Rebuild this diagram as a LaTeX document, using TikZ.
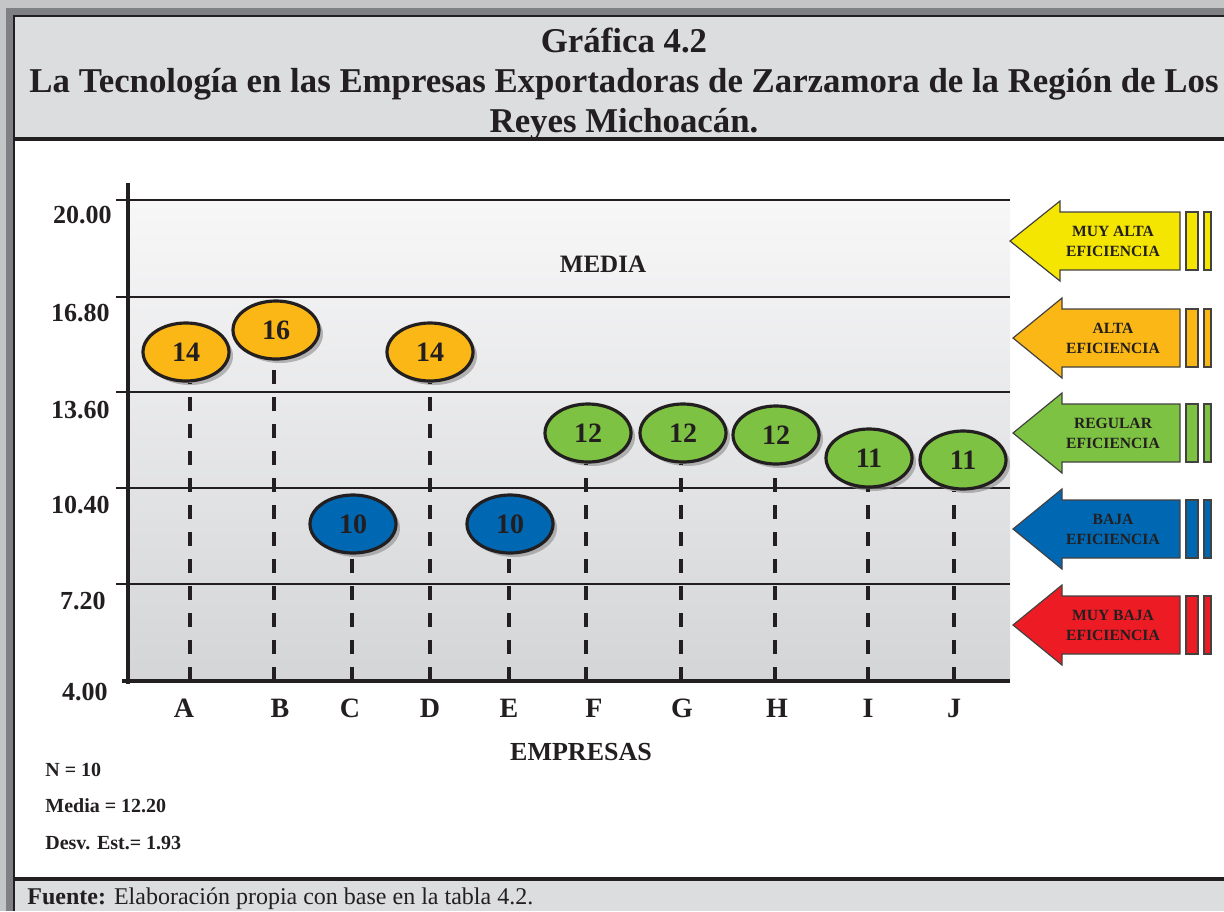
\documentclass[tikz,border=0pt]{standalone}
\usepackage{fontspec}
\setmainfont{Liberation Serif}
\usetikzlibrary{shapes.geometric}
\usetikzlibrary{shadows}
\definecolor{ink}{HTML}{231F20}
\definecolor{paneg}{HTML}{DCDDDF}
\definecolor{edgeg}{HTML}{7F8083}
\definecolor{outg}{HTML}{C4C5C7}
\definecolor{plottop}{HTML}{F7F7F8}
\definecolor{plotbot}{HTML}{D4D5D7}
\definecolor{cyell}{HTML}{F4E600}
\definecolor{corng}{HTML}{FBB716}
\definecolor{cgreen}{HTML}{7DC242}
\definecolor{cblue}{HTML}{0067B2}
\definecolor{cred}{HTML}{ED1C24}

\begin{document}
\begin{tikzpicture}[x=0.5pt, y=-0.5pt, every node/.style={text=ink, inner sep=0pt},
  gridline/.style={draw=ink, line width=0.7pt},
  axisline/.style={draw=ink, line width=1.6pt},
  stem/.style={draw=ink, line width=1.9pt, dash pattern=on 7pt off 6.5pt},
  score/.style={ellipse, draw=ink, line width=1.6pt, minimum width=43pt, minimum height=29pt,
    font=\fontsize{14}{14}\selectfont\bfseries,
    drop shadow={shadow xshift=2pt, shadow yshift=-2pt, fill=black!45, opacity=0.6}},
  ylab/.style={anchor=east, font=\fontsize{13}{13}\selectfont\bfseries},
  xlab/.style={font=\fontsize{14}{14}\selectfont\bfseries},
  stat/.style={anchor=west, font=\fontsize{10}{10}\selectfont\bfseries},
  effarrow/.style={draw=ink!85, line width=0.6pt},
  efftext/.style={align=center, font=\fontsize{7.8}{10}\selectfont\bfseries}]
\useasboundingbox (0,0) rectangle (1224,911);
\fill[white] (0,0) rectangle (1224,911);
\fill[outg] (0,0) rectangle (1224,8);
\fill[outg] (0,0) rectangle (6,911);
\fill[edgeg] (6,8) rectangle (1224,16);
\fill[edgeg] (6,8) rectangle (13,911);
\fill[paneg] (15,17) rectangle (1224,137);
\fill[ink] (13,15) rectangle (1224,17);
\fill[ink] (13,15) rectangle (15,911);
\fill[ink] (13,137) rectangle (1224,141);
\fill[paneg] (15,881) rectangle (1224,911);
\fill[ink] (13,877) rectangle (1224,881);

\node[align=center, font=\fontsize{17.4}{20}\selectfont\bfseries] (title) at (624,84)
  {Gráfica 4.2\\La Tecnología en las Empresas Exportadoras de Zarzamora de la Región de Los\\Reyes Michoacán.};

\shade[top color=plottop, bottom color=plotbot] (128,200) rectangle (1010,681);
\draw[gridline] (116,200) -- (1010,200);
\draw[gridline] (116,297) -- (1010,297);
\draw[gridline] (116,392) -- (1010,392);
\draw[gridline] (116,488) -- (1010,488);
\draw[gridline] (116,584) -- (1010,584);

\node[ylab] (y20) at (112,215) {20.00};
\node[ylab] (y168) at (110,313) {16.80};
\node[ylab] (y136) at (110,410) {13.60};
\node[ylab] (y104) at (110,505) {10.40};
\node[ylab] (y72) at (106,601) {7.20};
\node[ylab] (y4) at (108,692) {4.00};
\node[font=\fontsize{12.5}{12.5}\selectfont\bfseries] (media) at (603,264) {MEDIA};

\coordinate (pA) at (190,681);
\coordinate (pB) at (274,681);
\coordinate (pC) at (352,681);
\coordinate (pD) at (430,681);
\coordinate (pE) at (509,681);
\coordinate (pF) at (586,681);
\coordinate (pG) at (681,681);
\coordinate (pH) at (775,681);
\coordinate (pI) at (868,681);
\coordinate (pJ) at (954,681);

\node[score, fill=corng] (eA) at (186,352) {14};
\node[score, fill=corng] (eB) at (276,330) {16};
\node[score, fill=cblue] (eC) at (353,524) {10};
\node[score, fill=corng] (eD) at (430,352) {14};
\node[score, fill=cblue] (eE) at (510,524) {10};
\node[score, fill=cgreen] (eF) at (588,433) {12};
\node[score, fill=cgreen] (eG) at (683,433) {12};
\node[score, fill=cgreen] (eH) at (776,435) {12};
\node[score, fill=cgreen] (eI) at (869,458) {11};
\node[score, fill=cgreen] (eJ) at (963,460) {11};

\draw[stem] (pA) -- (pA |- eA.south);
\draw[stem] (pB) -- (pB |- eB.south);
\draw[stem] (pC) -- (pC |- eC.south);
\draw[stem] (pD) -- (pD |- eD.south);
\draw[stem] (pE) -- (pE |- eE.south);
\draw[stem] (pF) -- (pF |- eF.south);
\draw[stem] (pG) -- (pG |- eG.south);
\draw[stem] (pH) -- (pH |- eH.south);
\draw[stem] (pI) -- (pI |- eI.south);
\draw[stem] (pJ) -- (pJ |- eJ.south);

\coordinate (yt) at (128,183);
\coordinate (yb) at (128,684);
\coordinate (xl) at (122,681);
\coordinate (xr) at (1010,681);
\draw[axisline] (yt) -- (yb);
\draw[axisline] (xl) -- (xr);

\node[xlab] (lA) at (184,708) {A};
\node[xlab] (lB) at (280,708) {B};
\node[xlab] (lC) at (350,708) {C};
\node[xlab] (lD) at (430,708) {D};
\node[xlab] (lE) at (509,708) {E};
\node[xlab] (lF) at (594,708) {F};
\node[xlab] (lG) at (682,708) {G};
\node[xlab] (lH) at (777,708) {H};
\node[xlab] (lI) at (868,708) {I};
\node[xlab] (lJ) at (954,708) {J};
\node[font=\fontsize{13}{13}\selectfont\bfseries] (emp) at (581,752) {EMPRESAS};

\node[stat] (n) at (45,770) {N = 10};
\node[stat] (mean) at (45,806) {Media = 12.20};
\node[stat] (sd) at (45,843) {Desv. Est.= 1.93};

\draw[effarrow, fill=cyell] (1010,241) -- (1060,201) -- (1060,212) -- (1180,212) -- (1180,270) -- (1060,270) -- (1060,281) -- cycle;
\draw[effarrow, fill=cyell] (1186,212) rectangle (1198,270);
\draw[effarrow, fill=cyell] (1204,212) rectangle (1211,270);
\node[efftext] (muyalta) at (1113,241) {MUY ALTA\\EFICIENCIA};

\draw[effarrow, fill=corng] (1013,338) -- (1062,298) -- (1062,309) -- (1180,309) -- (1180,367) -- (1062,367) -- (1062,378) -- cycle;
\draw[effarrow, fill=corng] (1186,309) rectangle (1198,367);
\draw[effarrow, fill=corng] (1204,309) rectangle (1211,367);
\node[efftext] (alta) at (1113,338) {ALTA\\EFICIENCIA};

\draw[effarrow, fill=cgreen] (1013,433) -- (1062,393) -- (1062,404) -- (1180,404) -- (1180,462) -- (1062,462) -- (1062,473) -- cycle;
\draw[effarrow, fill=cgreen] (1186,404) rectangle (1198,462);
\draw[effarrow, fill=cgreen] (1204,404) rectangle (1211,462);
\node[efftext] (regular) at (1113,433) {REGULAR\\EFICIENCIA};

\draw[effarrow, fill=cblue] (1013,529) -- (1062,489) -- (1062,500) -- (1180,500) -- (1180,558) -- (1062,558) -- (1062,569) -- cycle;
\draw[effarrow, fill=cblue] (1186,500) rectangle (1198,558);
\draw[effarrow, fill=cblue] (1204,500) rectangle (1211,558);
\node[efftext] (baja) at (1113,529) {BAJA\\EFICIENCIA};

\draw[effarrow, fill=cred] (1013,625) -- (1062,585) -- (1062,596) -- (1180,596) -- (1180,654) -- (1062,654) -- (1062,665) -- cycle;
\draw[effarrow, fill=cred] (1186,596) rectangle (1198,654);
\draw[effarrow, fill=cred] (1204,596) rectangle (1211,654);
\node[efftext] (mbaja) at (1113,625) {MUY BAJA\\EFICIENCIA};

\node[anchor=base west, font=\fontsize{12}{12}\selectfont] (src) at (27,904)
  {\textbf{Fuente:} Elaboración propia con base en la tabla 4.2.};
\end{tikzpicture}
\end{document}
